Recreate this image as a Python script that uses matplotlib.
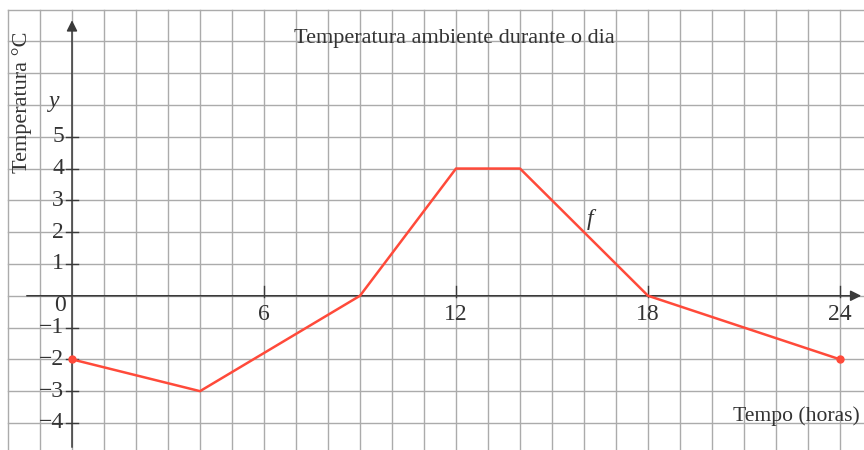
import matplotlib.pyplot as plt
import numpy as np

# data
hours = [0, 4, 9, 12, 14, 18, 24]
temps = [-2, -3, 0, 4, 4, 0, -2]
x_ticks = [6, 12, 18, 24]
y_ticks = [-4, -3, -2, -1, 1, 2, 3, 4, 5]

plt.rcParams['font.family'] = ['Liberation Serif', 'DejaVu Serif']

fig = plt.figure(figsize=(8.64, 4.5), dpi=100)
ax = fig.add_axes([0, 0, 1, 1])
ax.set_xlim(-2.25, 24.75)
ax.set_ylim(-4.85, 9.3)
ax.axis('off')

# graph paper
grid_c = '#ababab'
for gx in range(-2, 25):
    ax.plot([gx, gx], [-4.85, 9], color=grid_c, lw=1.0, zorder=1)
for gy in range(-4, 10):
    ax.plot([-2, 24.75], [gy, gy], color=grid_c, lw=1.0, zorder=1)

# axes with arrows
ax_c = '#3a3a3a'
ax.annotate('', xy=(24.75, 0), xytext=(-1.5, 0),
            arrowprops=dict(arrowstyle='-|>', color=ax_c, lw=1.1, mutation_scale=16), zorder=3)
ax.annotate('', xy=(0, 8.75), xytext=(0, -4.85),
            arrowprops=dict(arrowstyle='-|>', color=ax_c, lw=1.1, mutation_scale=16), zorder=3)

# ticks on y axis
for t in y_ticks:
    ax.plot([-0.2, 0.2], [t, t], color=ax_c, lw=1.0, zorder=3)
    lbl = str(t) if t > 0 else '\u2212' + str(-t)
    ax.text(-0.25, t, lbl, ha='right', va='center', fontsize=17, color='#333333', zorder=4)
ax.text(-0.38, -0.32, '0', ha='center', va='center', fontsize=17, color='#333333')

# ticks on x axis
for t in x_ticks:
    ax.plot([t, t], [-0.05, 0.3], color=ax_c, lw=1.0, zorder=3)
    ax.text(t, -0.58, str(t), ha='center', va='center', fontsize=17, color='#333333')

# the function
ax.plot(hours, temps, color='#ff4a3a', lw=1.8, zorder=5)
ax.plot([hours[0], hours[-1]], [temps[0], temps[-1]], 'o', color='#ff4a3a', ms=5, zorder=6)

ax.text(-0.55, 6.1, 'y', ha='center', va='center', fontsize=17, style='italic', color='#333333')
ax.text(16.2, 2.4, 'f', ha='center', va='center', fontsize=17, style='italic', color='#333333')

ax.text(11.95, 8.1, 'Temperatura ambiente durante o dia', ha='center', va='center',
        fontsize=16, color='#333333')
ax.text(22.64, -3.78, 'Tempo (horas)', ha='center', va='center', fontsize=15.6, color='#333333')
ax.text(-1.56, 6.1, 'Temperatura \u00b0C', ha='center', va='center', rotation=90,
        fontsize=16, color='#333333')

fig.savefig('out.png', dpi=100)
